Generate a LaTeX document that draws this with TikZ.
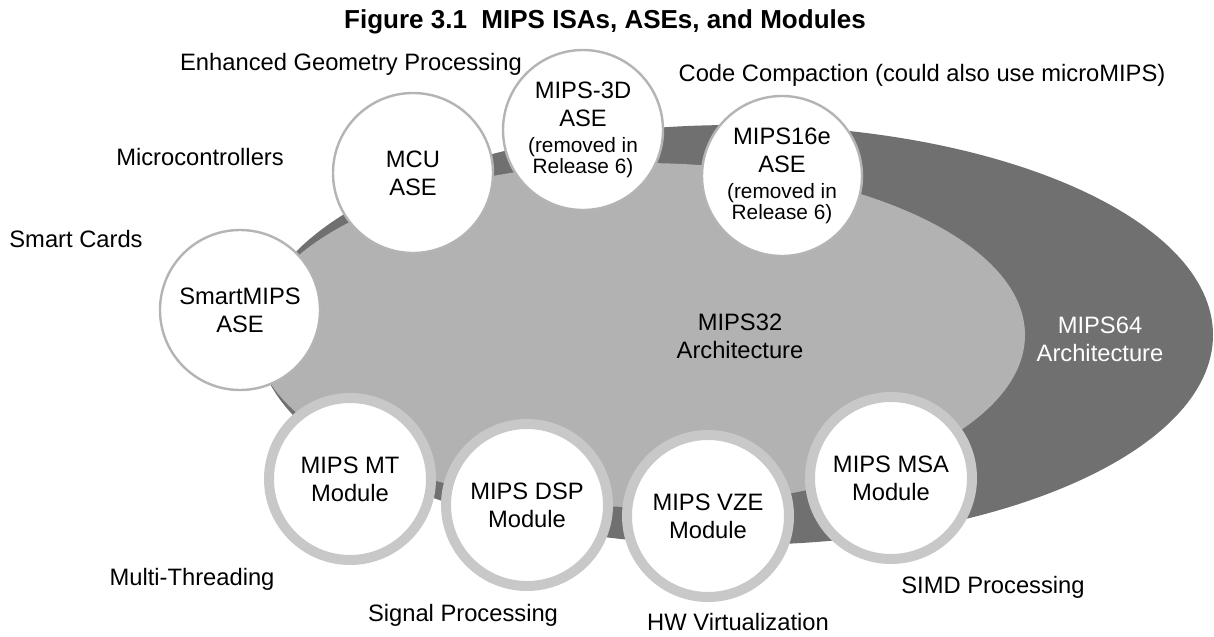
\documentclass[tikz,border=0pt]{standalone}
\usepackage{fontspec}
\setmainfont{Liberation Sans}
\definecolor{archdark}{HTML}{707070}
\definecolor{archlight}{HTML}{B2B2B2}
\definecolor{ringgray}{HTML}{C8C8C8}
\definecolor{asegray}{HTML}{B4B4B4}
\newcommand{\labelfont}{\fontsize{17.8}{21}\selectfont}
\newcommand{\notefont}{\fontsize{15.6}{16}\selectfont}

\begin{document}
\begin{tikzpicture}[x=0.75pt, y=-0.75pt,
    ase/.style={circle, draw=asegray, line width=1.8pt, fill=white, minimum size=120pt, inner sep=0pt, align=center, font=\labelfont},
    module/.style={circle, draw=ringgray, line width=7.5pt, fill=white, minimum size=121.5pt, inner sep=0pt, align=center, font=\labelfont},
    usage/.style={anchor=base, font=\labelfont}]
    \useasboundingbox (0,0) rectangle (1214,636);
    % Architectures
    \fill[archdark] (735,335) ellipse [x radius=478, y radius=210];
    \fill[archlight] (640,335) ellipse [x radius=385, y radius=172];
    \node[align=center, font=\labelfont] (mips32) at (740,336) {MIPS32\\Architecture};
    \node[align=center, font=\labelfont, white] (mips64) at (1100,339) {MIPS64\\Architecture};
    % ASEs
    \node[ase] (smartmips) at (240,310) {SmartMIPS\\ASE};
    \node[ase] (mcu) at (413,173) {MCU\\ASE};
    \node[ase] (mips3d) at (583,130) {MIPS-3D\\ASE\\[-1.5pt]{\notefont (removed in}\\[-5.2pt]{\notefont Release 6)}};
    \node[ase] (mips16e) at (782,176) {MIPS16e\\ASE\\[-1.5pt]{\notefont (removed in}\\[-5.2pt]{\notefont Release 6)}};
    % Modules
    \node[module] (mt) at (350,479) {MIPS MT\\Module};
    \node[module] (dsp) at (527,505) {MIPS DSP\\Module};
    \node[module] (vze) at (708,516) {MIPS VZE\\Module};
    \node[module] (msa) at (891,478) {MIPS MSA\\Module};
    % Title and application areas
    \node[anchor=base, font=\bfseries\fontsize{19.5}{23}\selectfont] (title) at (605,28) {Figure 3.1\ \ MIPS ISAs, ASEs, and Modules};
    \node[usage] (geometry) at (351,70) {Enhanced Geometry Processing};
    \node[usage] (compaction) at (922,81) {Code Compaction (could also use microMIPS)};
    \node[usage] (micro) at (200,165) {Microcontrollers};
    \node[usage] (cards) at (76,247) {Smart Cards};
    \node[usage] (threading) at (192,585) {Multi-Threading};
    \node[usage] (signal) at (463,621) {Signal Processing};
    \node[usage] (virt) at (738,630) {HW Virtualization};
    \node[usage] (simd) at (993,593) {SIMD Processing};
\end{tikzpicture}
\end{document}
